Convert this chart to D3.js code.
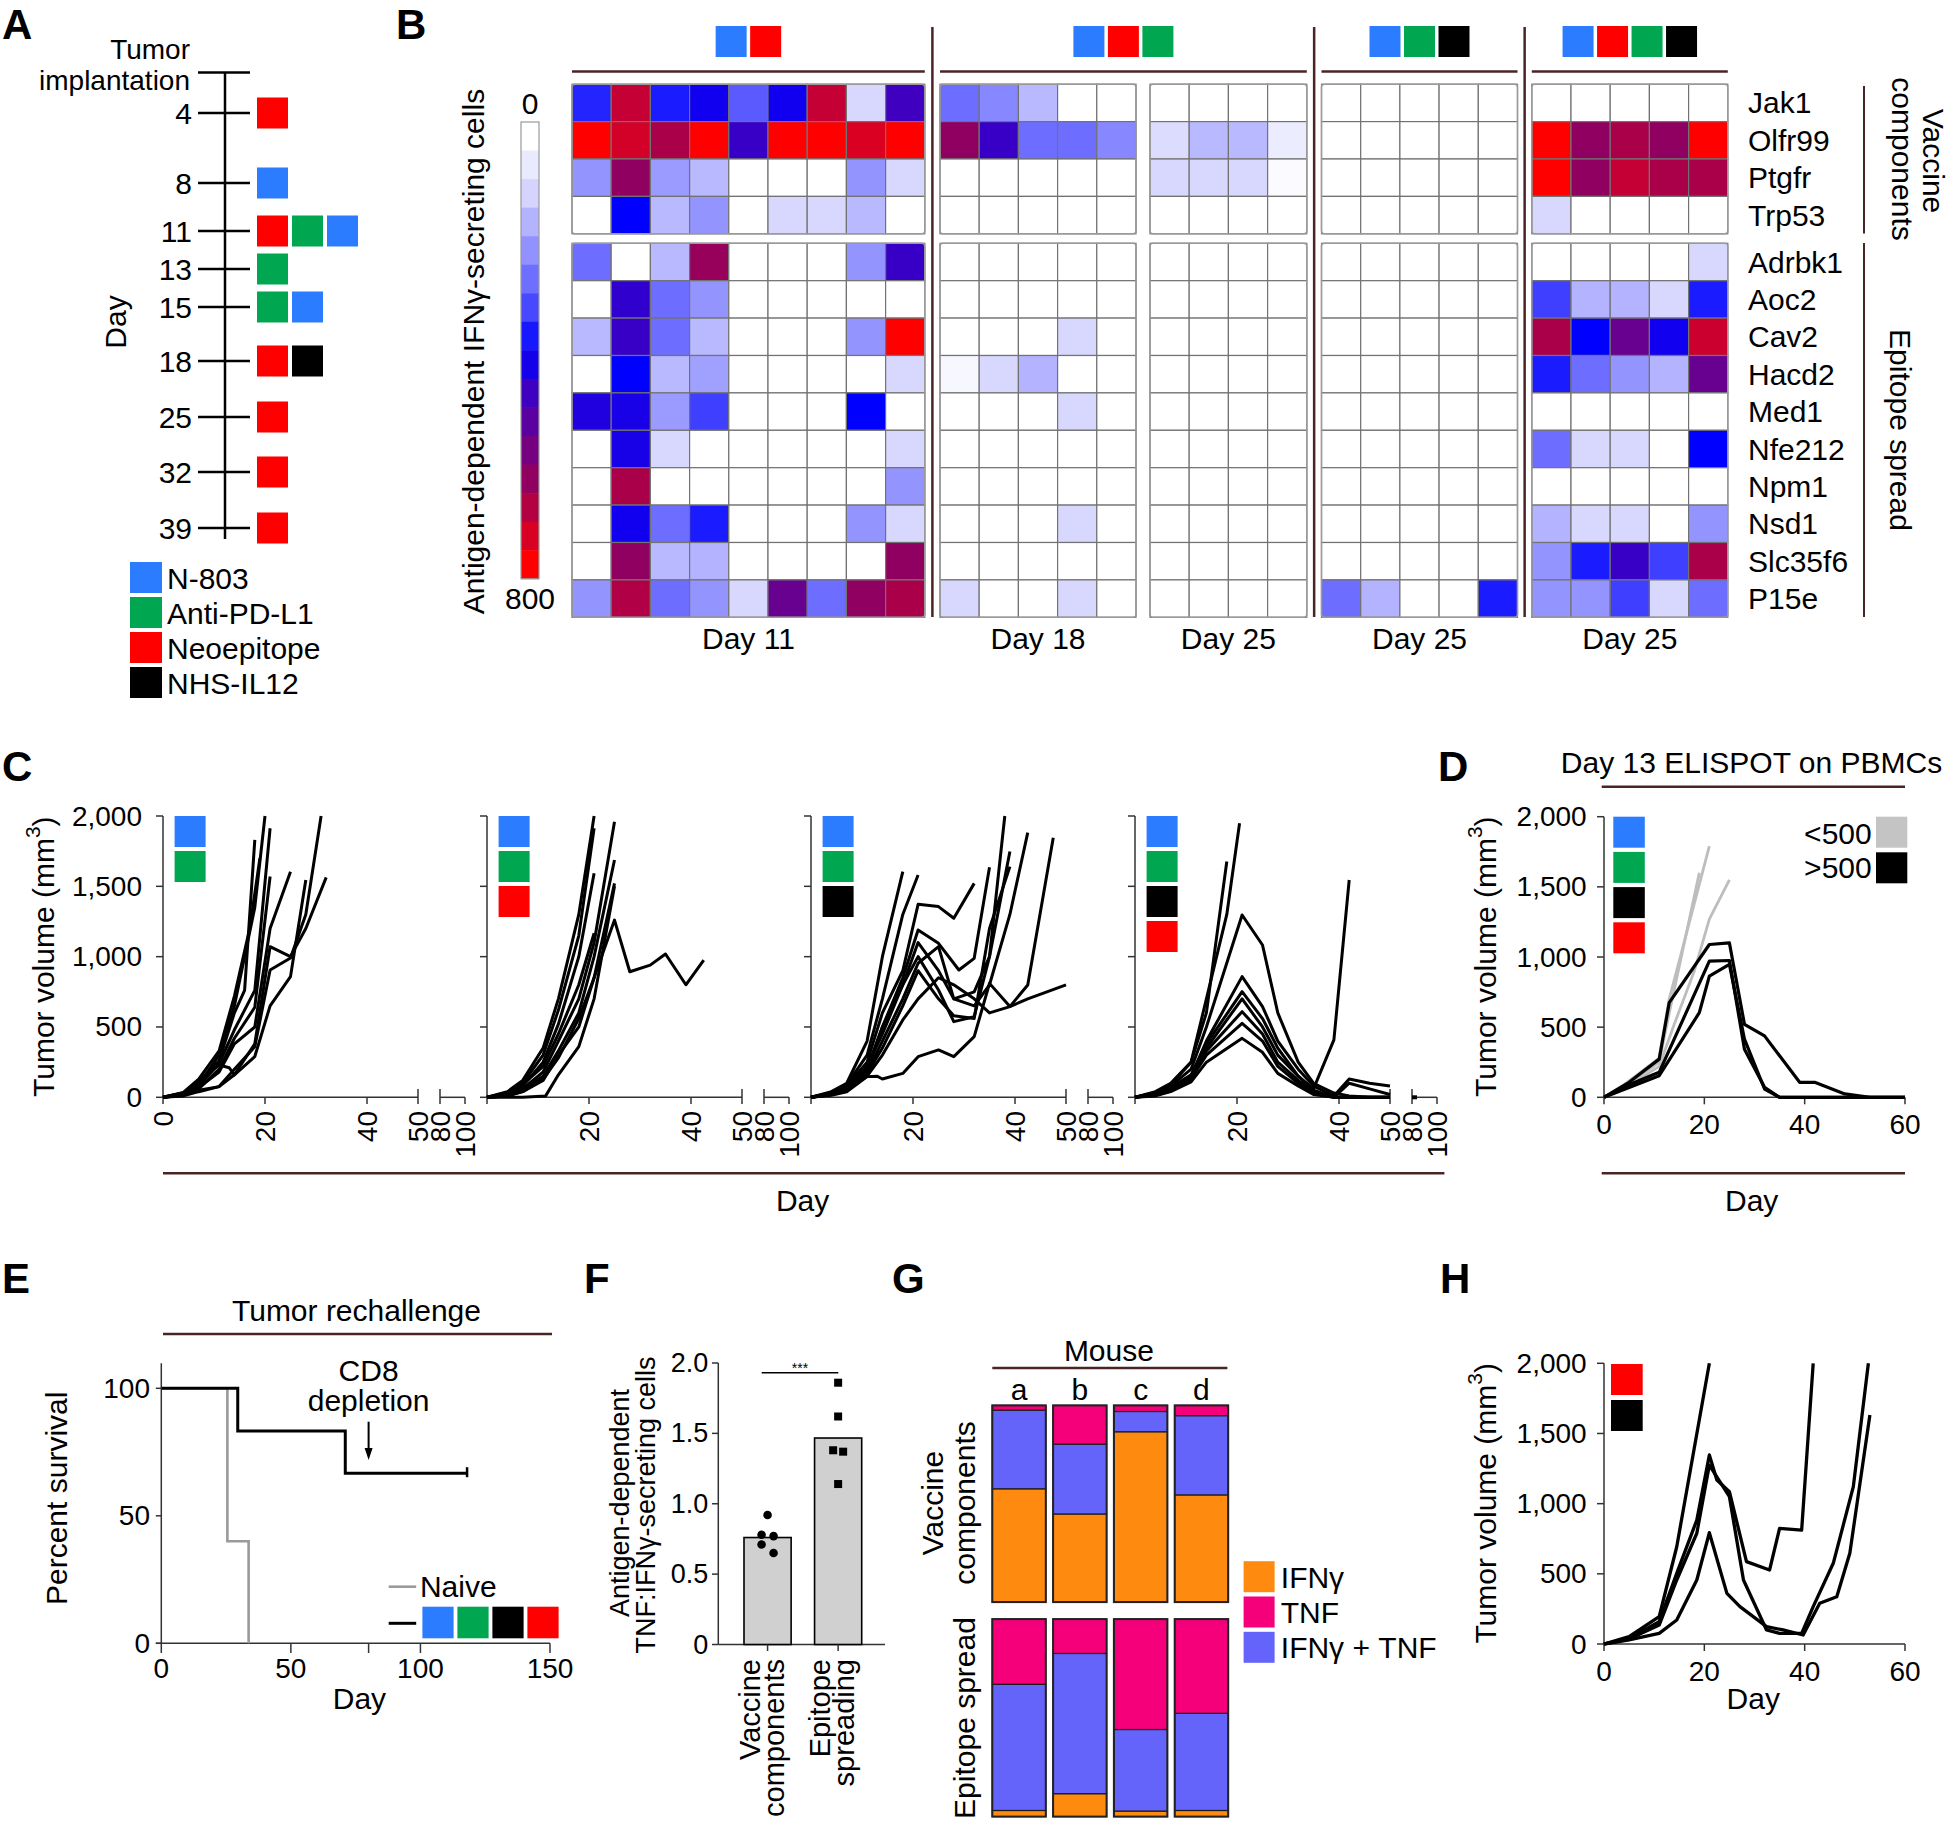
<!DOCTYPE html>
<html><head><meta charset="utf-8">
<script src="https://cdn.jsdelivr.net/npm/d3@7"></script>
<style>body{margin:0;background:#fff}</style>
</head><body>
<script>
// ================= DATA =================
const treatmentNames = ["N-803", "Anti-PD-L1", "Neoepitope", "NHS-IL12"];
const treatmentColors = ["#2b7cff", "#00a650", "#ff0000", "#000000"];

// Panel A: dosing schedule
const scheduleDays = [4, 8, 11, 13, 15, 18, 25, 32, 39];
const scheduleDoses = [["Neoepitope"], ["N-803"], ["Neoepitope", "Anti-PD-L1", "N-803"], ["Anti-PD-L1"],
  ["Anti-PD-L1", "N-803"], ["Neoepitope", "NHS-IL12"], ["Neoepitope"], ["Neoepitope"], ["Neoepitope"]];

// Panel B: heat map (rows = genes, columns = mice)
const genes = ["Jak1", "Olfr99", "Ptgfr", "Trp53", "Adrbk1", "Aoc2", "Cav2", "Hacd2", "Med1", "Nfe212", "Npm1", "Nsd1", "Slc35f6", "P15e"];
const heatGroupTreatments = [["N-803", "Neoepitope"], ["N-803", "Neoepitope", "Anti-PD-L1"],
  ["N-803", "Anti-PD-L1", "NHS-IL12"], ["N-803", "Neoepitope", "Anti-PD-L1", "NHS-IL12"]];
const heatBlockLabels = ["Day 11", "Day 18", "Day 25", "Day 25", "Day 25"];
const heatBlockGroup = [0, 1, 1, 2, 3];
const heatDay11 = [
  [360, 720, 370, 420, 300, 420, 720, 100, 480],
  [800, 740, 680, 800, 470, 800, 800, 750, 800],
  [210, 640, 200, 150, 0, 0, 0, 210, 100],
  [0, 400, 150, 210, 0, 100, 100, 150, 0],
  [270, 0, 150, 650, 0, 0, 0, 210, 470],
  [0, 460, 270, 210, 0, 0, 0, 0, 0],
  [150, 470, 270, 150, 0, 0, 0, 210, 800],
  [0, 400, 150, 190, 0, 0, 0, 0, 100],
  [440, 430, 200, 330, 0, 0, 0, 400, 0],
  [0, 430, 100, 0, 0, 0, 0, 0, 100],
  [0, 680, 0, 0, 0, 0, 0, 0, 210],
  [0, 420, 270, 370, 0, 0, 0, 210, 100],
  [0, 640, 150, 160, 0, 0, 0, 0, 640],
  [210, 690, 270, 210, 100, 560, 270, 640, 680]];
const heatDay18 = [
  [270, 230, 150, 0, 0], [640, 470, 270, 270, 230], [0, 0, 0, 0, 0], [0, 0, 0, 0, 0],
  [0, 0, 0, 0, 0], [0, 0, 0, 0, 0], [0, 0, 0, 100, 0], [20, 100, 160, 0, 0],
  [0, 0, 0, 100, 0], [0, 0, 0, 0, 0], [0, 0, 0, 0, 0], [0, 0, 0, 100, 0],
  [0, 0, 0, 0, 0], [100, 0, 0, 100, 0]];
const heatDay25Triple = [
  [0, 0, 0, 0], [90, 150, 150, 50], [100, 100, 100, 10], [0, 0, 0, 0],
  [0, 0, 0, 0], [0, 0, 0, 0], [0, 0, 0, 0], [0, 0, 0, 0], [0, 0, 0, 0],
  [0, 0, 0, 0], [0, 0, 0, 0], [0, 0, 0, 0], [0, 0, 0, 0], [0, 0, 0, 0]];
const heatDay25NoVax = [
  [0, 0, 0, 0, 0], [0, 0, 0, 0, 0], [0, 0, 0, 0, 0], [0, 0, 0, 0, 0],
  [0, 0, 0, 0, 0], [0, 0, 0, 0, 0], [0, 0, 0, 0, 0], [0, 0, 0, 0, 0],
  [0, 0, 0, 0, 0], [0, 0, 0, 0, 0], [0, 0, 0, 0, 0], [0, 0, 0, 0, 0],
  [0, 0, 0, 0, 0], [270, 160, 0, 0, 370]];
const heatDay25Quad = [
  [0, 0, 0, 0, 0], [800, 640, 680, 640, 800], [800, 640, 720, 680, 680], [100, 0, 0, 0, 0],
  [0, 0, 0, 0, 100], [330, 160, 160, 100, 370], [680, 400, 560, 420, 730], [370, 270, 210, 160, 560],
  [0, 0, 0, 0, 0], [270, 100, 100, 0, 400], [0, 0, 0, 0, 0], [160, 100, 100, 0, 210],
  [210, 370, 470, 330, 680], [210, 210, 330, 100, 270]];
const heatScaleMax = 800;

// Panel C: tumour growth curves [day, mm3]
const growthTreatments = [["N-803", "Anti-PD-L1"], ["N-803", "Anti-PD-L1", "Neoepitope"],
  ["N-803", "Anti-PD-L1", "NHS-IL12"], ["N-803", "Anti-PD-L1", "NHS-IL12", "Neoepitope"]];
const growthC1 = [
  [[0,0],[4,30],[7,90],[11,300],[14,650],[18,1350],[20,2000]],
  [[0,0],[4,25],[7,110],[11,260],[14,600],[16,760],[18,1830]],
  [[0,0],[4,20],[7,80],[11,240],[14,480],[18,760],[21,1913]],
  [[0,0],[4,15],[7,60],[11,200],[14,420],[18,640],[21,1570]],
  [[0,0],[4,20],[7,70],[11,180],[14,380],[18,500],[21,1200],[25,1604]],
  [[0,0],[4,10],[7,40],[11,76],[14,160],[18,290],[21,650],[25,858],[28,1545]],
  [[0,0],[4,15],[7,50],[11,76],[14,200],[18,360],[21,905],[25,990],[28,1300],[31,2000]],
  [[0,0],[4,30],[7,120],[11,230],[13,210],[14,160],[18,380],[21,1071],[25,1000],[28,1200],[32,1564]],
  [[0,0],[4,35],[7,130],[11,330],[14,720],[17,1200],[19,1700]]];
const growthC2 = [
  [[0,0],[4,40],[7,120],[11,350],[14,700],[18,1300],[21,2000]],
  [[0,0],[4,30],[7,100],[11,300],[14,620],[18,1150],[21,1913]],
  [[0,0],[4,20],[7,80],[11,250],[14,520],[18,1000],[21,1593]],
  [[0,0],[4,25],[7,90],[11,220],[14,450],[18,800],[21,1166]],
  [[0,0],[4,15],[7,60],[11,180],[14,400],[18,700],[21,1100],[25,1960]],
  [[0,0],[4,10],[7,50],[11,150],[14,330],[18,600],[21,1000],[25,1687]],
  [[0,0],[4,10],[7,40],[11,120],[14,300],[18,500],[21,850],[25,1521]],
  [[0,0],[4,10],[7,40],[11,130],[14,280],[18,560],[21,850],[25,1260],[28,893],[32,940],[35,1019],[39,800],[42.5,976]],
  [[0,0],[7,0],[11.5,10],[14,160],[18,360],[21,700],[25,1500]]];
const growthC3 = [
  [[0,0],[4,40],[7,100],[11,400],[14,1000],[18,1605]],
  [[0,0],[4,30],[7,90],[11,300],[14,700],[18,1300],[21,1581]],
  [[0,0],[4,30],[7,80],[11,250],[14,600],[18,900],[21,1372],[25,1356],[28,1273],[32,1521]],
  [[0,0],[4,25],[7,70],[11,200],[14,500],[18,850],[21,1190],[25,1095],[29,905],[32,988],[35,1635]],
  [[0,0],[4,20],[7,60],[11,200],[14,500],[18,800],[21,1000],[25,763],[28,538],[32,573],[35,1000],[38,2000]],
  [[0,0],[4,20],[7,60],[11,180],[14,400],[18,700],[21,953],[25,1071],[28,700],[32,650],[35,800],[39,1300],[42.5,1882]],
  [[0,0],[4,20],[7,50],[11,150],[14,300],[18,550],[21,700],[25,850],[28,800],[32,700],[35,600],[39,645],[42.5,799],[47.5,1846]],
  [[0,0],[4,15],[7,40],[11,147],[13,150],[14,130],[18,170],[21,289],[25,337],[28,289],[32,431],[35,810],[39,645],[42.5,700],[50,799]],
  [[0,0],[4,25],[7,70],[11,220],[14,450],[18,800],[21,1100],[25,900],[28,700],[32,750],[35,1000],[39,1747]],
  [[0,0],[4,20],[7,60],[11,170],[14,350],[18,650],[21,900],[25,700],[28,580],[32,560],[35,1200],[39,1640]]];
const growthC4 = [
  [[0,0],[4,40],[7,100],[11,250],[14,700],[18,1300],[20.5,1948]],
  [[0,0],[4,30],[7,90],[11,250],[14,600],[18,1676]],
  [[0,0],[4,30],[7,80],[11,200],[14,500],[21,1296],[25,1083],[28,600],[32,250],[35,100],[39,30],[42,10],[46,0],[50,0]],
  [[0,0],[4,20],[7,60],[11,150],[14,400],[21,858],[25,645],[28,400],[32,200],[35,80],[39,10],[42,130],[46,100],[50,80]],
  [[0,0],[4,25],[7,70],[11,160],[14,380],[21,751],[25,560],[28,350],[32,150],[35,50],[39,0],[46,0],[50,0]],
  [[0,0],[4,20],[7,50],[11,140],[14,330],[21,609],[25,450],[28,250],[32,120],[35,40],[39,0],[50,0]],
  [[0,0],[4,15],[7,45],[11,130],[14,300],[21,526],[25,400],[28,220],[32,100],[35,30],[39,0],[42,100],[46,60],[50,20]],
  [[0,0],[4,10],[7,40],[11,110],[14,250],[21,419],[25,320],[28,170],[32,80],[35,20],[39,0],[50,0]],
  [[0,0],[4,20],[7,60],[11,150],[14,350],[21,700],[25,500],[28,300],[32,150],[35,60],[39,408],[42,1545]]];
const growthLateC4 = [[80, 0], [84, 0]];

// Panel D: ELISPOT split
const elispotLow = [
  [[0,0],[4,80],[7,150],[11,250],[13,600],[19,1600]],
  [[0,0],[4,90],[7,170],[11,280],[13,700],[21,1790]],
  [[0,0],[4,70],[7,130],[11,220],[14,520],[18,900],[21,1270],[25,1550]]];
const elispotHigh = [
  [[0,0],[5,107],[11,272],[13,675],[21,1089],[25,1100],[28,520],[32,438],[39,107],[42,107],[48,24],[53,0],[60,0]],
  [[0,0],[5,90],[11,178],[21,970],[25,975],[28,343],[32,71],[35,0],[60,0]],
  [[0,0],[5,70],[11,154],[19,603],[21,864],[25,947],[28,414],[32,59],[35,0],[60,0]]];

// Panel E: survival (step after)
const survivalNaive = [[0,100],[25.5,40],[33.7,0]];
const survivalTreated = [[0,100],[29.5,83.3],[71,66.7],[118,66.7]];
const cd8DepletionDay = 80;

// Panel F
const fGroups = [["Vaccine", "components"], ["Epitope", "spreading"]];
const fMeans = [0.76, 1.467];
const fVaccinePoints = [0.92, 0.78, 0.77, 0.71, 0.65];
const fSpreadPoints = [1.86, 1.62, 1.38, 1.37, 1.14];

// Panel G
const mice = ["a", "b", "c", "d"];
const gCategories = ["IFNγ", "TNF", "IFNγ + TNF"];
const gVaccineIFNg = [0.576, 0.448, 0.866, 0.545];
const gVaccineBoth = [0.400, 0.355, 0.103, 0.403];
const gVaccineTNF = [0.024, 0.197, 0.031, 0.052];
const gSpreadIFNg = [0.031, 0.116, 0.028, 0.031];
const gSpreadBoth = [0.639, 0.710, 0.413, 0.492];
const gSpreadTNF = [0.330, 0.174, 0.559, 0.477];

// Panel H
const rechallengeH = [
  [[0,0],[5,52],[11,195],[14.5,693],[21,2000]],
  [[0,0],[5,40],[11,159],[14.5,503],[18.5,883],[21,1347],[22.5,1169],[25,1085],[28.4,587],[33,527],[35,824],[39.4,812],[41.7,2000]],
  [[0,0],[5,35],[11,135],[14.5,456],[18.5,789],[21,1275],[25,1050],[27.8,456],[32.4,100],[35,76],[39.4,76],[41.7,266],[45.7,575],[49.7,1121],[52.7,2000]],
  [[0,0],[5,30],[11,76],[14.5,171],[18.5,456],[21,793],[24.5,361],[27.1,266],[32.4,124],[35.7,100],[39.7,64],[43,290],[46.4,337],[49,646],[53,1632]]];

// ================= DRAWING =================
const W = 1949, H = 1823;
const FS = 30, TFS = 28;
const BROWN = "#4a2424";
const AX = "#333";
const svg = d3.select("body").append("svg").attr("width", W).attr("height", H)
  .attr("font-family", "'Liberation Sans', Arial, Helvetica, sans-serif");
svg.append("rect").attr("width", W).attr("height", H).attr("fill", "#fff");
const colorOf = n => treatmentColors[treatmentNames.indexOf(n)];

function txt(g, x, y, s, o = {}) {
  const t = g.append("text").attr("x", x).attr("y", y).text(s)
    .attr("font-size", o.size || FS).attr("text-anchor", o.anchor || "start")
    .attr("dominant-baseline", o.baseline || "central").attr("fill", o.fill || "#000");
  if (o.weight) t.attr("font-weight", o.weight);
  if (o.rotate != null) t.attr("transform", `rotate(${o.rotate},${x},${y})`);
  return t;
}
function line(g, x1, y1, x2, y2, stroke = AX, w = 1.5) {
  return g.append("line").attr("x1", x1).attr("y1", y1).attr("x2", x2).attr("y2", y2)
    .attr("stroke", stroke).attr("stroke-width", w);
}
function swatch(g, x, y, w, h, fill) {
  return g.append("rect").attr("x", x).attr("y", y).attr("width", w).attr("height", h).attr("fill", fill);
}
function volTitle(g, x, y) {
  const t = g.append("text").attr("transform", `translate(${x},${y}) rotate(-90)`)
    .attr("text-anchor", "middle").attr("dominant-baseline", "central").attr("font-size", FS);
  t.append("tspan").text("Tumor volume (mm");
  t.append("tspan").text("3").attr("font-size", 21).attr("dy", -11);
  t.append("tspan").text(")").attr("dy", 11);
}

// panel letters
[["A", 2, 39], ["B", 396, 39], ["C", 2, 781], ["D", 1438, 781], ["E", 2, 1293], ["F", 584, 1293], ["G", 892, 1293], ["H", 1440, 1293]]
  .forEach(([l, x, y]) => txt(svg, x, y, l, { size: 42, weight: "bold", baseline: "alphabetic" }));

// ---------- Panel A ----------
{
  const g = svg.append("g");
  const aY = d3.scaleLinear().domain([0, 4, 8, 11, 13, 15, 18, 25, 32, 39])
    .range([72.5, 113, 183, 231, 269, 307, 361, 417, 472, 528]);
  line(g, 225, aY(0), 225, 539, "#000", 2.5);
  [0, ...scheduleDays].forEach(d => line(g, 198, aY(d), 250, aY(d), "#000", 2.5));
  scheduleDays.forEach((d, i) => {
    txt(g, 192, aY(d), d, { anchor: "end" });
    scheduleDoses[i].forEach((t, j) => swatch(g, 257 + j * 35, aY(d) - 15.5, 31, 31, colorOf(t)));
  });
  txt(g, 190, 59, "Tumor", { anchor: "end", baseline: "alphabetic", size: 28 });
  txt(g, 190, 89.5, "implantation", { anchor: "end", baseline: "alphabetic", size: 28 });
  txt(g, 115, 322, "Day", { anchor: "middle", rotate: -90 });
  treatmentNames.forEach((t, i) => {
    swatch(g, 130, 562 + i * 35, 32, 31, treatmentColors[i]);
    txt(g, 167, 562 + i * 35 + 16, t);
  });
}

// ---------- Panel B ----------
{
  const g = svg.append("g");
  const heatColor = d3.scaleLinear()
    .domain([0, 100, 200, 300, 400, 480, 560, 640, 720, 800])
    .range(["#ffffff", "#d8d8ff", "#9a9aff", "#5a5aff", "#0000ff", "#4000bf", "#680090", "#900060", "#c40034", "#ff0000"])
    .clamp(true);
  const rowH = 37.4, colW = 39.2;
  const topRows = d3.scaleBand().domain(genes.slice(0, 4)).range([84.2, 84.2 + 4 * rowH]);
  const botRows = d3.scaleBand().domain(genes.slice(4)).range([243.3, 243.3 + 10 * rowH]);
  const rowY = gn => genes.indexOf(gn) < 4 ? topRows(gn) : botRows(gn);
  const blocks = [heatDay11, heatDay18, heatDay25Triple, heatDay25NoVax, heatDay25Quad];
  const lefts = [572, 940, 1150, 1321.5, 1531.8];
  const spans = [];
  blocks.forEach((blk, b) => {
    const n = blk[0].length;
    const xs = d3.scaleBand().domain(d3.range(n)).range([lefts[b], lefts[b] + n * colW]);
    spans.push([lefts[b], lefts[b] + n * colW]);
    genes.forEach((gn, r) => blk[r].forEach((v, c) => {
      g.append("rect").attr("x", xs(c)).attr("y", rowY(gn)).attr("width", colW).attr("height", rowH)
        .attr("fill", heatColor(v)).attr("stroke", "#727272").attr("stroke-width", 1.2);
    }));
    [[84.2, 4], [243.3, 10]].forEach(([y0, k]) =>
      g.append("rect").attr("x", lefts[b]).attr("y", y0).attr("width", n * colW).attr("height", k * rowH)
        .attr("rx", 3).attr("fill", "none").attr("stroke", "#9a9a9a").attr("stroke-width", 1.5));
    txt(g, lefts[b] + n * colW / 2, 638, heatBlockLabels[b], { anchor: "middle" });
  });
  const groupSpans = heatGroupTreatments.map((_, gi) => {
    const idx = heatBlockGroup.map((v, i) => v === gi ? i : -1).filter(i => i >= 0);
    return [d3.min(idx, i => spans[i][0]), d3.max(idx, i => spans[i][1])];
  });
  groupSpans.forEach(([l, r], gi) => {
    line(g, l, 71.5, r, 71.5, BROWN, 2.5);
    const ts = heatGroupTreatments[gi];
    const c = (l + r) / 2, w = ts.length * 34.5 - 3.5;
    ts.forEach((t, j) => swatch(g, c - w / 2 + j * 34.5, 26, 31, 31, colorOf(t)));
    if (gi < groupSpans.length - 1) {
      const sx = (r + groupSpans[gi + 1][0]) / 2;
      line(g, sx, 27, sx, 617, BROWN, 2.5);
    }
  });
  // colour bar
  const nSeg = 16, cbTop = 122, cbBot = 578.7, segH = (cbBot - cbTop) / nSeg;
  d3.range(nSeg).forEach(i => swatch(g, 521, cbTop + i * segH, 18, segH + 0.5, heatColor(i * heatScaleMax / (nSeg - 1))));
  g.append("rect").attr("x", 521).attr("y", cbTop).attr("width", 18).attr("height", cbBot - cbTop)
    .attr("fill", "none").attr("stroke", "#999").attr("stroke-width", 1.2);
  txt(g, 530, 103, "0", { anchor: "middle" });
  txt(g, 530, 598, String(heatScaleMax), { anchor: "middle" });
  txt(g, 473, 351.5, "Antigen-dependent IFNγ-secreting cells", { anchor: "middle", rotate: -90 });
  // gene labels and brackets
  genes.forEach(gn => txt(g, 1748, rowY(gn) + rowH / 2, gn));
  line(g, 1864, 86, 1864, 233.6, BROWN, 2);
  line(g, 1864, 243, 1864, 617, BROWN, 2);
  [["Vaccine", 1933, 161], ["components", 1902, 159], ["Epitope spread", 1900, 430]].forEach(([s, x, y]) =>
    g.append("text").attr("transform", `translate(${x},${y}) rotate(90)`).attr("text-anchor", "middle")
      .attr("dominant-baseline", "central").attr("font-size", FS).text(s));
}

// ---------- Panel C ----------
{
  const g = svg.append("g");
  const cY = d3.scaleLinear().domain([0, 2000]).range([1097.3, 816]);
  const sets = [growthC1, growthC2, growthC3, growthC4];
  sets.forEach((set, i) => {
    const x0 = 163 + i * 324;
    const cx = d3.scaleLinear().domain([0, 50]).range([x0, x0 + 255]);
    const cb = d3.scaleLinear().domain([80, 100]).range([x0 + 277, x0 + 302]);
    line(g, x0, 816, x0, 1097.3);
    [0, 500, 1000, 1500, 2000].forEach(v => {
      line(g, x0 - 7, cY(v), x0, cY(v));
      if (i === 0) txt(g, x0 - 21, cY(v), d3.format(",")(v), { anchor: "end", size: TFS });
    });
    line(g, x0, 1097.3, cx(50), 1097.3);
    [0, 20, 40].forEach(d => line(g, cx(d), 1097.3, cx(d), 1104));
    line(g, cx(50), 1089, cx(50), 1104);
    line(g, cb(80), 1097.3, cb(100), 1097.3);
    line(g, cb(80), 1089, cb(80), 1104);
    line(g, cb(100), 1097.3, cb(100), 1104);
    const labs = (i === 0 ? [0, 20, 40, 50] : [20, 40, 50]).map(d => [d, cx(d)]).concat([[80, cb(80)], [100, cb(100)]]);
    labs.forEach(([d, x]) => g.append("text").attr("transform", `translate(${x},1111) rotate(-90)`)
      .attr("text-anchor", "end").attr("dominant-baseline", "central").attr("font-size", TFS).text(d));
    const ln = d3.line().x(d => cx(d[0])).y(d => cY(d[1]));
    set.forEach(c => g.append("path").attr("d", ln(c)).attr("fill", "none").attr("stroke", "#000")
      .attr("stroke-width", 3).attr("stroke-linejoin", "round"));
    if (i === 3) {
      const lb = d3.line().x(d => cb(d[0])).y(d => cY(d[1]));
      g.append("path").attr("d", lb(growthLateC4)).attr("stroke", "#000").attr("stroke-width", 4).attr("fill", "none");
    }
    growthTreatments[i].forEach((t, j) => swatch(g, x0 + 11.6, 816 + j * 35, 31, 31, colorOf(t)));
  });
  volTitle(g, 42.5, 956.7);
  line(g, 163, 1173.3, 1444.4, 1173.3, BROWN, 2.5);
  txt(g, 802.6, 1200, "Day", { anchor: "middle" });
}

// ---------- common XY (D, H) ----------
function xyPanel(g, yBase, yTop) {
  const x = d3.scaleLinear().domain([0, 60]).range([1604, 1905]);
  const y = d3.scaleLinear().domain([0, 2000]).range([yBase, yTop]);
  line(g, 1604, yTop, 1604, yBase);
  line(g, 1604, yBase, 1905, yBase);
  [0, 500, 1000, 1500, 2000].forEach(v => {
    line(g, 1597, y(v), 1604, y(v));
    txt(g, 1586.7, y(v), d3.format(",")(v), { anchor: "end", size: TFS });
  });
  [0, 20, 40, 60].forEach(d => {
    line(g, x(d), yBase, x(d), yBase + 7);
    txt(g, x(d), yBase + 27, d, { anchor: "middle", size: TFS });
  });
  return { x, y };
}

// ---------- Panel D ----------
{
  const g = svg.append("g");
  const { x, y } = xyPanel(g, 1097.3, 816.7);
  txt(g, 1751.5, 762.7, "Day 13 ELISPOT on PBMCs", { anchor: "middle" });
  line(g, 1601.7, 786.7, 1905, 786.7, BROWN, 2.5);
  const ln = d3.line().x(d => x(d[0])).y(d => y(d[1]));
  elispotLow.forEach(c => g.append("path").attr("d", ln(c)).attr("fill", "none").attr("stroke", "#bdbdbd")
    .attr("stroke-width", 2.8).attr("stroke-linejoin", "round"));
  elispotHigh.forEach(c => g.append("path").attr("d", ln(c)).attr("fill", "none").attr("stroke", "#000")
    .attr("stroke-width", 3.2).attr("stroke-linejoin", "round"));
  ["N-803", "Anti-PD-L1", "NHS-IL12", "Neoepitope"].forEach((t, j) => swatch(g, 1613.3, 816.7 + j * 35.2, 31.5, 31, colorOf(t)));
  txt(g, 1871.7, 833.3, "<500", { anchor: "end" });
  swatch(g, 1876, 816.7, 31.3, 31, "#c4c4c4");
  txt(g, 1871.7, 867.7, ">500", { anchor: "end" });
  swatch(g, 1876, 852.3, 31.3, 31, "#000");
  volTitle(g, 1485, 956.7);
  line(g, 1601.7, 1173.3, 1905, 1173.3, BROWN, 2.5);
  txt(g, 1751.7, 1200, "Day", { anchor: "middle" });
}

// ---------- Panel E ----------
{
  const g = svg.append("g");
  const x = d3.scaleLinear().domain([0, 150]).range([161.3, 550]);
  const y = d3.scaleLinear().domain([0, 100]).range([1643.3, 1388.3]);
  txt(g, 356.5, 1310, "Tumor rechallenge", { anchor: "middle" });
  line(g, 163, 1334, 552, 1334, BROWN, 2.5);
  line(g, 161.3, 1363.3, 161.3, 1643.3);
  line(g, 155.8, 1643.3, 550, 1643.3);
  [0, 50, 100].forEach(v => {
    line(g, 155.8, y(v), 161.3, y(v));
    txt(g, 150, y(v), v, { anchor: "end", size: TFS });
  });
  [0, 50, 100, 150].forEach(d => {
    line(g, x(d), 1643.3, x(d), 1653);
    txt(g, x(d), 1668.3, d, { anchor: "middle", size: TFS });
  });
  line(g, x(cd8DepletionDay), 1643.3, x(cd8DepletionDay), 1653);
  const ln = d3.line().x(d => x(d[0])).y(d => y(d[1])).curve(d3.curveStepAfter);
  g.append("path").attr("d", ln(survivalNaive)).attr("fill", "none").attr("stroke", "#9a9a9a").attr("stroke-width", 2.6);
  g.append("path").attr("d", ln(survivalTreated)).attr("fill", "none").attr("stroke", "#000").attr("stroke-width", 3);
  const last = survivalTreated[survivalTreated.length - 1];
  line(g, x(last[0]), y(last[1]) - 6, x(last[0]), y(last[1]) + 4, "#000", 2.5);
  // arrow
  const ax = x(cd8DepletionDay);
  line(g, ax, 1421.7, ax, 1452, "#000", 2);
  g.append("path").attr("d", `M${ax - 4},${1448}L${ax + 4},${1448}L${ax},${1460}Z`).attr("fill", "#000");
  txt(g, ax, 1370, "CD8", { anchor: "middle" });
  txt(g, ax, 1400, "depletion", { anchor: "middle" });
  // legend
  line(g, 388.7, 1586.7, 416.2, 1586.7, "#9a9a9a", 2.6);
  txt(g, 419.9, 1586.7, "Naive");
  line(g, 388.7, 1623.3, 416.2, 1623.3, "#000", 3);
  ["N-803", "Anti-PD-L1", "NHS-IL12", "Neoepitope"].forEach((t, j) => swatch(g, 422.4 + j * 35, 1606.7, 31.2, 31.6, colorOf(t)));
  txt(g, 56.8, 1498.3, "Percent survival", { anchor: "middle", rotate: -90 });
  txt(g, 359.4, 1698.3, "Day", { anchor: "middle" });
}

// ---------- Panel F ----------
{
  const g = svg.append("g");
  const y = d3.scaleLinear().domain([0, 2]).range([1644.5, 1363]);
  const xb = d3.scaleBand().domain([0, 1]).range([744, 861.7]).paddingInner(0.332).paddingOuter(0);
  line(g, 718.3, 1363, 718.3, 1644.5);
  line(g, 718.3, 1644.5, 885, 1644.5);
  [0, 0.5, 1, 1.5, 2].forEach(v => {
    line(g, 712, y(v), 718.3, y(v));
    txt(g, 708.3, y(v), v === 0 ? "0" : d3.format(".1f")(v), { anchor: "end", size: 27 });
  });
  fMeans.forEach((m, i) => {
    g.append("rect").attr("x", xb(i)).attr("y", y(m)).attr("width", xb.bandwidth()).attr("height", y(0) - y(m))
      .attr("fill", "#d0d0d0").attr("stroke", "#000").attr("stroke-width", 1.6);
    const cx = xb(i) + xb.bandwidth() / 2;
    line(g, cx, 1644.5, cx, 1651);
    const [l1, l2] = fGroups[i];
    [[l1, cx - 18], [l2, cx + 6]].forEach(([s, xx]) =>
      g.append("text").attr("transform", `translate(${xx},1659) rotate(-90)`).attr("text-anchor", "end")
        .attr("dominant-baseline", "central").attr("font-size", 29).text(s));
  });
  const jitter = [0, -1, 1, -1, 1];
  const c0 = xb(0) + xb.bandwidth() / 2, c1 = xb(1) + xb.bandwidth() / 2;
  fVaccinePoints.forEach((v, i) => g.append("circle").attr("cx", c0 + jitter[i] * 6).attr("cy", y(v)).attr("r", 4.3).attr("fill", "#000"));
  const jitter2 = [0, 0, -1, 1, 0];
  fSpreadPoints.forEach((v, i) => g.append("rect").attr("x", c1 + jitter2[i] * 5 - 4).attr("y", y(v) - 4).attr("width", 8).attr("height", 8).attr("fill", "#000"));
  line(g, 761.7, 1372.8, 838.3, 1372.8, "#000", 1.5);
  txt(g, 800, 1368, "***", { anchor: "middle", size: 14 });
  txt(g, 620, 1503, "Antigen-dependent", { anchor: "middle", rotate: -90, size: 27 });
  txt(g, 646, 1505, "TNF:IFNγ-secreting cells", { anchor: "middle", rotate: -90, size: 27 });
}

// ---------- Panel G ----------
{
  const g = svg.append("g");
  const gColors = { "IFNγ": "#ff8a10", "TNF": "#f5007a", "IFNγ + TNF": "#6464fa" };
  const xb = d3.scaleBand().domain(mice).range([992.3, 1228.2]).paddingInner(0.12);
  txt(g, 1108.9, 1350, "Mouse", { anchor: "middle" });
  line(g, 992.3, 1368, 1227.4, 1368, BROWN, 2.5);
  mice.forEach(m => txt(g, xb(m) + xb.bandwidth() / 2, 1389, m, { anchor: "middle" }));
  const stacks = [
    { ifn: gVaccineIFNg, both: gVaccineBoth, tnf: gVaccineTNF, y: d3.scaleLinear().domain([0, 1]).range([1602.1, 1405.4]) },
    { ifn: gSpreadIFNg, both: gSpreadBoth, tnf: gSpreadTNF, y: d3.scaleLinear().domain([0, 1]).range([1816.6, 1619.1]) }];
  stacks.forEach(s => {
    const rows = mice.map((m, i) => ({ m, "IFNγ": s.ifn[i], "IFNγ + TNF": s.both[i], "TNF": s.tnf[i] }));
    const st = d3.stack().keys(["IFNγ", "IFNγ + TNF", "TNF"])(rows);
    st.forEach(layer => layer.forEach(d => {
      g.append("rect").attr("x", xb(d.data.m)).attr("y", s.y(d[1])).attr("width", xb.bandwidth())
        .attr("height", s.y(d[0]) - s.y(d[1])).attr("fill", gColors[layer.key]).attr("stroke", "#1a1a1a").attr("stroke-width", 1.2);
    }));
    mice.forEach(m => g.append("rect").attr("x", xb(m)).attr("y", s.y(1)).attr("width", xb.bandwidth())
      .attr("height", s.y(0) - s.y(1)).attr("fill", "none").attr("stroke", "#222").attr("stroke-width", 2));
  });
  txt(g, 932, 1503, "Vaccine", { anchor: "middle", rotate: -90 });
  txt(g, 964, 1503, "components", { anchor: "middle", rotate: -90 });
  txt(g, 964, 1718, "Epitope spread", { anchor: "middle", rotate: -90 });
  gCategories.forEach((c, i) => {
    swatch(g, 1243.6, 1561.2 + i * 35.3, 31, 31, gColors[c]);
    txt(g, 1280.8, 1561.2 + i * 35.3 + 16, c);
  });
}

// ---------- Panel H ----------
{
  const g = svg.append("g");
  const { x, y } = xyPanel(g, 1644, 1363.3);
  const ln = d3.line().x(d => x(d[0])).y(d => y(d[1]));
  rechallengeH.forEach(c => g.append("path").attr("d", ln(c)).attr("fill", "none").attr("stroke", "#000")
    .attr("stroke-width", 3.3).attr("stroke-linejoin", "round"));
  ["Neoepitope", "NHS-IL12"].forEach((t, j) => swatch(g, 1611, 1364 + j * 36, 31.7, 31, colorOf(t)));
  volTitle(g, 1485, 1503.3);
  txt(g, 1753.3, 1698.3, "Day", { anchor: "middle" });
}
</script>
</body></html>
